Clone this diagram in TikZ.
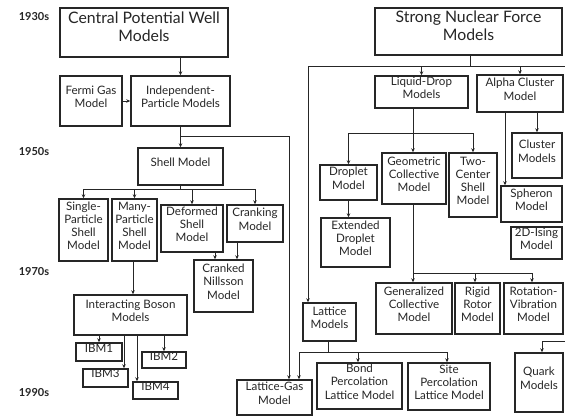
\documentclass[tikz,border=0pt]{standalone}
\usepackage{fontspec}
\setmainfont{Lato}
\usetikzlibrary{arrows.meta,fit}
\definecolor{ink}{HTML}{262626}
\begin{document}
\begin{tikzpicture}[x=1pt,y=-1pt,
  box/.style={draw=ink, line width=1.4pt, align=center, inner sep=0pt, text=ink,
    font=\fontsize{11.6}{13.3}\selectfont},
  big/.style={box, font=\fontsize{15.8}{18.5}\selectfont},
  conn/.style={draw=ink, line width=1pt},
  arr/.style={conn, -{Stealth[length=4pt,width=3.5pt]}},
  yr/.style={text=ink, inner sep=0pt, font=\fontsize{11}{12}\selectfont\bfseries}]
\useasboundingbox (0,0) rectangle (565,416);
\fill[white] (0,0) rectangle (565,416);

% year labels
\node[yr] (y1930) at (34,17) {1930s};
\node[yr] (y1950) at (34,152) {1950s};
\node[yr] (y1970) at (34,272) {1970s};
\node[yr] (y1990) at (34,393) {1990s};

% left branch
\node[big, fit={(60,8) (228,57)}] (cpw) {Central Potential Well\\Models};
\node[box, fit={(60,76) (122,126)}] (fermi) {Fermi Gas\\Model};
\node[box, fit={(131,76) (230,126)}] (indep) {Independent-\\Particle Models};
\node[box, fit={(138,148) (223,185)}] (shell) {Shell Model};
\node[box, fit={(59,199) (108,261)}] (single) {Single-\\Particle\\Shell\\Model};
\node[box, fit={(112,199) (157,261)}] (many) {Many-\\Particle\\Shell\\Model};
\node[box, fit={(161,205) (223,252)}] (deformed) {Deformed\\Shell\\Model};
\node[box, fit={(227,205) (283,242)}] (cranking) {Cranking\\Model};
\node[box, fit={(194,260) (253,312)}] (cranked) {Cranked\\Nillsson\\Model};
\node[box, fit={(74,295) (187,335)}] (ibm) {Interacting Boson\\Models};
\node[box, fit={(76,343) (122,361)}] (ibm1) {IBM1};
\node[box, fit={(142,352) (186,368)}] (ibm2) {IBM2};
\node[box, fit={(83,369) (128,387)}] (ibm3) {IBM3};
\node[box, fit={(133,382) (178,399)}] (ibm4) {IBM4};
\node[box, fit={(237,380) (312,415)}] (latgas) {Lattice-Gas\\Model};

% right branch
\node[big, fit={(375,8) (562,55)}] (snf) {Strong Nuclear Force\\Models};
\node[box, fit={(375,76) (468,108)}] (liquid) {Liquid-Drop\\Models};
\node[box, fit={(477,75) (563,112)}] (alpha) {Alpha Cluster\\Model};
\node[box, fit={(320,165) (377,200)}] (droplet) {Droplet\\Model};
\node[box, fit={(382,153) (446,204)}] (geometric) {Geometric\\Collective\\Model};
\node[box, fit={(449,153) (497,217)}] (twocenter) {Two-\\Center\\Shell\\Model};
\node[box, fit={(321,218) (390,267)}] (extdroplet) {Extended\\Droplet\\Model};
\node[box, fit={(512,133) (562,178)}] (cluster) {Cluster\\Models};
\node[box, fit={(501,186) (562,222)}] (spheron) {Spheron\\Model};
\node[box, fit={(511,227) (562,259)}] (ising) {2D-Ising\\Model};
\node[box, fit={(376,283) (452,334)}] (generalized) {Generalized\\Collective\\Model};
\node[box, fit={(455,283) (500,334)}] (rigid) {Rigid\\Rotor\\Model};
\node[box, fit={(504,283) (563,334)}] (rotvib) {Rotation-\\Vibration\\Model};
\node[box, fit={(303,303) (356,341)}] (lattice) {Lattice\\Models};
\node[box, fit={(317,363) (402,409)}] (bond) {Bond\\Percolation\\Lattice Model};
\node[box, fit={(408,363) (490,410)}] (site) {Site\\Percolation\\Lattice Model};
\node[box, fit={(515,353) (563,412)}] (quark) {Quark\\Models};

% junctions
\coordinate (j1) at (180.5,136);
\coordinate (j2) at (180.5,189);
\coordinate (jl) at (308,66);
\coordinate (jr) at (566,66);
\coordinate (j4) at (413,133);
\coordinate (j5) at (413,273);
\coordinate (j6) at (328,352);
\coordinate (qin) at (566,341);

% left connectors
\draw[arr] (indep.north |- cpw.south) -- (indep.north);
\draw[arr] (fermi.east) -- (indep.west);
\draw[arr] (indep.south) -- (shell.north);
\draw[arr] (j1) -| ([xshift=14.5pt]latgas.north);
\draw[conn] (shell.south) -- (j2);
\draw[arr] (j2) -| (single.north);
\draw[arr] (j2) -| (many.north);
\draw[arr] (j2) -| (deformed.north);
\draw[arr] (j2) -| (cranking.north);
\draw[arr] ([xshift=-8.5pt]cranked.north |- deformed.south) -- ([xshift=-8.5pt]cranked.north);
\draw[arr] ([xshift=13.5pt]cranked.north |- cranking.south) -- ([xshift=13.5pt]cranked.north);
\draw[arr] ([xshift=-1.5pt]many.south) -- ([xshift=-1.5pt]many.south |- ibm.north);
\draw[arr] (ibm1.north |- ibm.south) -- (ibm1.north);
\draw[arr] ([xshift=18.5pt]ibm3.north |- ibm.south) -- ([xshift=18.5pt]ibm3.north);
\draw[arr] ([xshift=-18.5pt]ibm4.north |- ibm.south) -- ([xshift=-18.5pt]ibm4.north);
\draw[arr] (ibm2.north |- ibm.south) -- (ibm2.north);

% right connectors
\draw[conn] ([xshift=1.5pt]snf.south) -- ([xshift=1.5pt]snf.south |- jl);
\draw[conn] (jl) -- (jr);
\draw[arr] (liquid.north |- jl) -- (liquid.north);
\draw[arr] (alpha.north |- jl) -- (alpha.north);
\draw[arr] (jl) -- (jl |- lattice.north);
\draw[conn] (j4 |- liquid.south) -- (j4);
\draw[arr] (j4) -| (droplet.north);
\draw[arr] (j4) -- (j4 |- geometric.north);
\draw[arr] (j4) -| (twocenter.north);
\draw[arr] (droplet.south) -- (droplet.south |- extdroplet.north);
\draw[conn] (j5 |- geometric.south) -- (j5);
\draw[arr] (j5) -- (j5 |- generalized.north);
\draw[arr] (j5) -| ([xshift=-2.5pt]rigid.north);
\draw[arr] (j5) -| ([xshift=-1.5pt]rotvib.north);
\draw[arr] (cluster.north |- alpha.south) -- (cluster.north);
\draw[arr] ([xshift=-26.5pt]spheron.north |- alpha.south) -- ([xshift=-26.5pt]spheron.north);
\draw[conn] (j6 |- lattice.south) -- (j6);
\draw[arr] (j6) -| ([xshift=24.5pt]latgas.north);
\draw[arr] (j6) -| ([xshift=-1.5pt]bond.north);
\draw[arr] (j6) -| ([xshift=-2pt]site.north);
\draw[arr] (qin) -| ([xshift=3pt]quark.north);
\end{tikzpicture}
\end{document}
